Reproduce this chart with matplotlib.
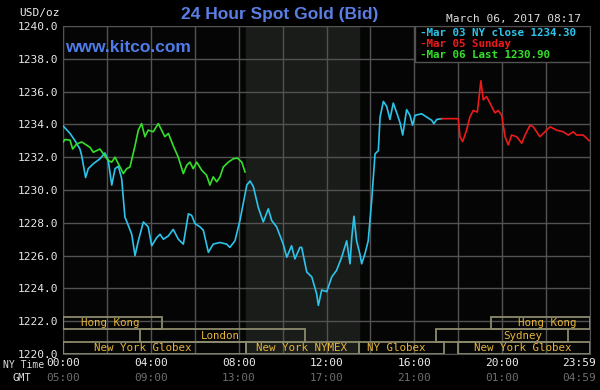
import matplotlib
matplotlib.use('Agg')
import matplotlib.pyplot as plt
from matplotlib.patches import Rectangle

# Mar 03 NY session (cyan): hours since 00:00 NY time, USD/oz
cyan_t = [0.01, 0.32, 0.55, 0.77, 0.85, 1.03, 1.15, 1.38, 1.68, 1.91, 2.06, 2.22, 2.37, 2.52,
          2.67, 2.82, 2.97, 3.13, 3.28, 3.43, 3.66, 3.88, 4.04, 4.27, 4.42, 4.57, 4.80, 5.02,
          5.25, 5.48, 5.71, 5.86, 6.01, 6.24, 6.39, 6.62, 6.84, 7.15, 7.45, 7.60, 7.83, 8.06,
          8.37, 8.52, 8.67, 8.89, 9.12, 9.35, 9.50, 9.73, 10.03, 10.19, 10.41, 10.56, 10.79,
          10.87, 11.10, 11.33, 11.55, 11.63, 11.78, 12.01, 12.24, 12.46, 12.69, 12.92, 13.07,
          13.15, 13.25, 13.37, 13.52, 13.60, 13.75, 13.90, 14.06, 14.21, 14.36, 14.44, 14.59,
          14.74, 14.89, 15.04, 15.20, 15.35, 15.47, 15.65, 15.80, 15.92, 16.03, 16.33, 16.56,
          16.79, 16.89, 17.02, 17.24]
cyan_p = [1233.9, 1233.45, 1233.0, 1232.5, 1232.1, 1230.76, 1231.3, 1231.6, 1231.9, 1232.26,
          1231.8, 1230.3, 1231.3, 1231.45, 1230.7, 1228.35, 1227.85, 1227.3, 1226.0, 1226.9,
          1228.05, 1227.75, 1226.6, 1227.1, 1227.3, 1227.0, 1227.2, 1227.6, 1227.0, 1226.7,
          1228.55, 1228.45, 1227.95, 1227.75, 1227.55, 1226.2, 1226.7, 1226.8, 1226.7, 1226.5,
          1226.9, 1228.15, 1230.3, 1230.55, 1230.2, 1228.95, 1228.05, 1228.85, 1228.15, 1227.75,
          1226.7, 1225.9, 1226.6, 1225.8, 1226.5, 1226.5, 1225.0, 1224.7, 1223.67, 1222.96,
          1223.9, 1223.8, 1224.7, 1225.1, 1225.9, 1226.9, 1225.5, 1227.1, 1228.4, 1226.9,
          1226.1, 1225.5, 1226.1, 1226.9, 1229.4, 1232.2, 1232.4, 1234.45, 1235.4, 1235.1,
          1234.3, 1235.3, 1234.7, 1234.1, 1233.35, 1234.9, 1234.55, 1233.95, 1234.55, 1234.65,
          1234.45, 1234.25, 1234.05, 1234.3, 1234.35]

# Mar 05 Sunday (red)
red_t = [17.24, 18.00, 18.08, 18.20, 18.38, 18.53, 18.68, 18.87, 19.03, 19.14, 19.29, 19.52,
         19.67, 19.82, 19.98, 20.13, 20.28, 20.43, 20.66, 20.89, 21.04, 21.27, 21.42, 21.72,
         21.95, 22.18, 22.48, 22.78, 23.01, 23.24, 23.39, 23.69, 23.97]
red_p = [1234.35, 1234.35, 1233.25, 1232.95, 1233.65, 1234.45, 1234.85, 1234.75, 1236.66,
         1235.5, 1235.7, 1235.1, 1234.7, 1234.85, 1234.55, 1233.25, 1232.75, 1233.35, 1233.25,
         1232.85, 1233.35, 1233.95, 1233.85, 1233.25, 1233.55, 1233.85, 1233.65, 1233.55,
         1233.35, 1233.55, 1233.35, 1233.35, 1233.0]

# Mar 06 (green)
green_t = [0.01, 0.09, 0.32, 0.44, 0.62, 0.85, 1.00, 1.23, 1.38, 1.68, 1.84, 2.06, 2.22, 2.37,
           2.52, 2.75, 2.90, 3.05, 3.28, 3.43, 3.58, 3.73, 3.88, 4.11, 4.34, 4.49, 4.64, 4.80,
           5.02, 5.25, 5.48, 5.63, 5.78, 5.93, 6.09, 6.32, 6.54, 6.69, 6.84, 7.00, 7.15, 7.30,
           7.53, 7.75, 7.94, 8.14, 8.29]
green_p = [1232.93, 1233.08, 1233.04, 1232.5, 1232.8, 1232.93, 1232.8, 1232.6, 1232.3, 1232.5,
           1232.2, 1231.8, 1231.7, 1232.0, 1231.6, 1231.0, 1231.3, 1231.4, 1232.7, 1233.65,
           1234.05, 1233.25, 1233.65, 1233.55, 1234.05, 1233.65, 1233.25, 1233.45, 1232.7,
           1232.0, 1231.0, 1231.5, 1231.7, 1231.3, 1231.7, 1231.2, 1230.9, 1230.3, 1230.8,
           1230.5, 1230.8, 1231.4, 1231.7, 1231.9, 1231.95, 1231.7, 1231.1]

# trading sessions: (name, start hour, end hour, row, label centre)
sessions = [
    ('Hong Kong', 0.0, 4.5, 2, 2.14),
    ('Hong Kong', 19.5, 24.0, 2, 22.04),
    ('London', 3.5, 11.0, 1, 7.15),
    ('Sydney', 17.0, 23.0, 1, 20.95),
    ('New York Globex', 0.0, 8.33, 0, 3.64),
    ('New York NYMEX', 8.33, 13.48, 0, 10.88),
    ('NY Globex', 13.48, 17.33, 0, 15.16),
    ('New York Globex', 18.0, 24.0, 0, 20.95),
]
nymex_open, nymex_close = 8.33, 13.5

tick_pos = [0, 4, 8, 12, 16, 20, 23.52]
ny_labels = ['00:00', '04:00', '08:00', '12:00', '16:00', '20:00', '23:59']
gmt_labels = ['05:00', '09:00', '13:00', '17:00', '21:00', '01:00', '04:59']

legend_lines = ['-Mar 03 NY close 1234.30', '-Mar 05 Sunday', '-Mar 06 Last 1230.90']

CYAN = '#2cc4ea'
RED = '#ee1a1a'
GREEN = '#34e02a'
GRID = '#525252'
GOLD = '#e6b43a'
MONO = 'DejaVu Sans Mono'

fig = plt.figure(figsize=(6, 3.9), dpi=100, facecolor='black')
ax = fig.add_axes([63 / 600, 36 / 390, 527 / 600, 328 / 390], facecolor='#050505')

ax.axvspan(nymex_open, nymex_close, color='#1a1c1a', zorder=0)
ax.set_xlim(0, 24)
ax.set_ylim(1220, 1240)
ax.set_xticks(range(0, 25, 2))
ax.set_yticks(range(1220, 1241, 2))
ax.grid(True, color=GRID, linewidth=1.0, zorder=1)
ax.tick_params(length=0, labelbottom=False)
ax.set_yticklabels([f'{v:.1f}' for v in range(1220, 1241, 2)],
                   fontfamily=MONO, fontsize=8, color='#e8e8e8')
for s in ax.spines.values():
    s.set_color(GRID)

ax.plot(cyan_t, cyan_p, color=CYAN, lw=1.2, zorder=4)
ax.plot(red_t, red_p, color=RED, lw=1.2, zorder=4)
ax.plot(green_t, green_p, color=GREEN, lw=1.2, zorder=5)

row_h = 0.75
for name, t0, t1, row, tc in sessions:
    y0 = 1220 + row * row_h
    ax.add_patch(Rectangle((t0, y0), t1 - t0, row_h, facecolor='none',
                           edgecolor='#8c8a6c', lw=1.3, zorder=3, clip_on=True))
    ax.text(tc, y0 + row_h / 2, name, ha='center', va='center', color=GOLD,
            fontfamily=MONO, fontsize=7.8, zorder=6)

# legend box
ax.add_patch(Rectangle((0.668, 0.89), 0.332, 0.11, transform=ax.transAxes,
                       facecolor='black', edgecolor=GRID, lw=1.0, zorder=7))
for i, (txt, c) in enumerate(zip(legend_lines, [CYAN, RED, GREEN])):
    ax.text(0.677, 0.980 - i * 0.034, txt, transform=ax.transAxes, ha='left', va='center',
            color=c, fontfamily=MONO, fontweight='bold', fontsize=7.8, zorder=8)

# x labels: NY time and GMT
for p, a, b in zip(tick_pos, ny_labels, gmt_labels):
    ax.text(p, -0.026, a, transform=ax.get_xaxis_transform(), ha='center', va='center',
            color='#eeeeee', fontfamily=MONO, fontsize=8)
    ax.text(p, -0.072, b, transform=ax.get_xaxis_transform(), ha='center', va='center',
            color='#6e6e6e', fontfamily=MONO, fontsize=8)

fig.text(3 / 600, 1 - 365 / 390, 'NY Time', ha='left', va='center', color='#dddddd',
         fontfamily=MONO, fontsize=7)
fig.text(22 / 600, 1 - 378 / 390, 'GMT', ha='center', va='center', color='#dddddd',
         fontfamily=MONO, fontsize=7.5)
fig.text(39 / 600, 1 - 13 / 390, 'USD/oz', ha='center', va='center', color='#eeeeee',
         fontfamily=MONO, fontsize=8)
fig.text(280 / 600, 1 - 15 / 390, '24 Hour Spot Gold (Bid)', ha='center', va='center',
         color='#5a7ee4', fontfamily='Liberation Sans', fontweight='bold', fontsize=12.5)
fig.text(513 / 600, 1 - 19 / 390, 'March 06, 2017 08:17', ha='center', va='center',
         color='#dddddd', fontfamily=MONO, fontsize=8)
ax.text(0.004, 0.935, 'www.kitco.com', transform=ax.transAxes, ha='left', va='center',
        color='#4f7ce8', fontfamily='Liberation Sans', fontweight='bold', fontsize=12.5)

fig.savefig('out.png', dpi=100, facecolor='black')
